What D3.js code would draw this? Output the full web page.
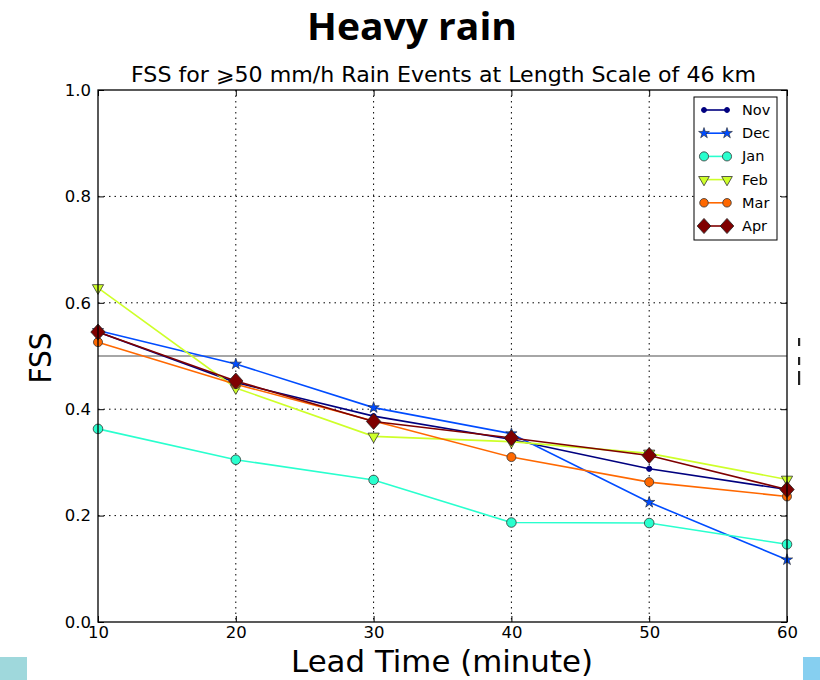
<!DOCTYPE html>
<html><head><meta charset="utf-8">
<script src="https://cdn.jsdelivr.net/npm/d3@7"></script>
<style>body{margin:0;background:#fff;} svg{display:block;}</style>
</head><body>
<svg id="c" width="820" height="680"></svg>
<script>
const leadTimes = [10, 20, 30, 40, 50, 60];
const months = ["Nov", "Dec", "Jan", "Feb", "Mar", "Apr"];
const nov = [0.545, 0.450, 0.387, 0.343, 0.288, 0.249];
const dec = [0.548, 0.485, 0.403, 0.354, 0.225, 0.117];
const jan = [0.363, 0.305, 0.267, 0.187, 0.186, 0.146];
const feb = [0.628, 0.440, 0.349, 0.339, 0.317, 0.268];
const mar = [0.526, 0.447, 0.378, 0.310, 0.263, 0.236];
const apr = [0.545, 0.453, 0.377, 0.346, 0.313, 0.249];
const xTicks = [10, 20, 30, 40, 50, 60];
const yTicks = [0.0, 0.2, 0.4, 0.6, 0.8, 1.0];
const refLine = 0.5;

const seriesVals = [nov, dec, jan, feb, mar, apr];
const colors = ["#00007f", "#004cff", "#29ffce", "#ceff29", "#ff6800", "#7f0000"];
const markers = ["dot", "star", "circle", "tri", "circle2", "diamond"];

const svg = d3.select("#c");
const L = 98, R = 787, T = 90, B = 622;
const x = d3.scaleLinear().domain([10, 60]).range([L, R]);
const y = d3.scaleLinear().domain([0, 1]).range([B, T]);
const font = "'DejaVu Sans', sans-serif";

// title
svg.append("text").attr("x", 412).attr("y", 40).attr("text-anchor", "middle")
  .attr("font-family", "'Open Sans', 'DejaVu Sans', sans-serif").attr("font-weight", "bold")
  .attr("font-size", 38).attr("textLength", 210).attr("lengthAdjust", "spacingAndGlyphs")
  .text("Heavy rain");
svg.append("text").attr("x", 443.5).attr("y", 82).attr("text-anchor", "middle")
  .attr("font-family", font).attr("font-size", 20.5)
  .attr("textLength", 625).attr("lengthAdjust", "spacingAndGlyphs")
  .text("FSS for \u2A7E50 mm/h Rain Events at Length Scale of 46 km");

// grid
const g = svg.append("g");
g.selectAll(".gx").data(xTicks.slice(1, -1)).enter().append("line")
  .attr("x1", d => x(d)).attr("x2", d => x(d)).attr("y1", T).attr("y2", B)
  .attr("stroke", "#000").attr("stroke-width", 1).attr("stroke-dasharray", "1.5,4");
g.selectAll(".gy").data(yTicks.slice(1, -1)).enter().append("line")
  .attr("x1", L).attr("x2", R).attr("y1", d => y(d)).attr("y2", d => y(d))
  .attr("stroke", "#000").attr("stroke-width", 1).attr("stroke-dasharray", "1.5,4");

// reference line
g.append("line").attr("x1", L).attr("x2", R).attr("y1", y(refLine)).attr("y2", y(refLine))
  .attr("stroke", "#888").attr("stroke-width", 1.3);

// axes (ticks inward)
const xAxB = d3.axisBottom(x).tickValues(xTicks).tickSizeInner(-6).tickSizeOuter(0).tickPadding(7).tickFormat(d3.format("d"));
const yAxL = d3.axisLeft(y).tickValues(yTicks).tickSizeInner(-6).tickSizeOuter(0).tickPadding(7).tickFormat(d3.format(".1f"));
const ax1 = svg.append("g").attr("transform", `translate(0,${B})`).call(xAxB);
const ax2 = svg.append("g").attr("transform", `translate(${L},0)`).call(yAxL);
[ax1, ax2].forEach(a => {
  a.select(".domain").remove();
  a.selectAll("text").attr("font-family", font).attr("font-size", 16.5).attr("fill", "#000");
  a.selectAll("line").attr("stroke", "#000");
});
ax1.selectAll("text").attr("dy", "0.55em");
// top/right ticks
svg.append("g").attr("transform", `translate(0,${T})`)
  .call(d3.axisTop(x).tickValues(xTicks).tickSizeInner(-6).tickSizeOuter(0).tickFormat(""))
  .call(a => { a.select(".domain").remove(); a.selectAll("line").attr("stroke", "#000"); });
svg.append("g").attr("transform", `translate(${R},0)`)
  .call(d3.axisRight(y).tickValues(yTicks).tickSizeInner(-6).tickSizeOuter(0).tickFormat(""))
  .call(a => { a.select(".domain").remove(); a.selectAll("line").attr("stroke", "#000"); });

// series
const line = d3.line().x((d, i) => x(leadTimes[i])).y(d => y(d));
function marker(sel, type, color, scale) {
  scale = scale || 1;
  if (type === "dot") {
    sel.append("circle").attr("r", 2.6 * scale).attr("fill", color).attr("stroke", color);
  } else if (type === "circle") {
    sel.append("circle").attr("r", 4.8 * scale).attr("fill", color).attr("stroke", "#333").attr("stroke-width", 0.8);
  } else if (type === "circle2") {
    sel.append("circle").attr("r", 4.5 * scale).attr("fill", color).attr("stroke", "#333").attr("stroke-width", 0.8);
  } else if (type === "star") {
    sel.append("path").attr("d", d3.symbol(d3.symbolStar, 40 * scale * scale)).attr("fill", color).attr("stroke", "#222").attr("stroke-width", 0.6);
  } else if (type === "tri") {
    sel.append("path").attr("d", d3.symbol(d3.symbolTriangle, 55 * scale * scale)).attr("transform", "rotate(180)")
      .attr("fill", color).attr("stroke", "#333").attr("stroke-width", 0.8);
  } else if (type === "diamond") {
    const s = 8 * scale;
    sel.append("path").attr("d", `M0,${-s}L${s * 0.9},0L0,${s}L${-s * 0.9},0Z`).attr("fill", color).attr("stroke", "#222").attr("stroke-width", 0.8);
  }
}
const plot = svg.append("g");
seriesVals.forEach((vals, k) => {
  const sg = plot.append("g");
  sg.append("path").datum(vals).attr("d", line).attr("fill", "none")
    .attr("stroke", colors[k]).attr("stroke-width", 1.6);
  vals.forEach((v, i) => {
    const m = sg.append("g").attr("transform", `translate(${x(leadTimes[i])},${y(v)})`);
    marker(m, markers[k], colors[k]);
  });
});

// frame
svg.append("rect").attr("x", L).attr("y", T).attr("width", R - L).attr("height", B - T)
  .attr("fill", "none").attr("stroke", "#000").attr("stroke-width", 1.3);

// legend
const lg = svg.append("g");
lg.append("rect").attr("x", 694).attr("y", 97).attr("width", 83).attr("height", 143)
  .attr("fill", "#fff").attr("stroke", "#000").attr("stroke-width", 1);
months.forEach((m, k) => {
  const yy = 110 + k * 23.2;
  lg.append("line").attr("x1", 704).attr("x2", 727).attr("y1", yy).attr("y2", yy)
    .attr("stroke", colors[k]).attr("stroke-width", 1.6);
  [704, 727].forEach(xx => {
    const mm = lg.append("g").attr("transform", `translate(${xx},${yy})`);
    marker(mm, markers[k], colors[k], 0.95);
  });
  lg.append("text").attr("x", 742).attr("y", yy + 5).attr("font-family", font)
    .attr("font-size", 14.5).text(m);
});

// axis labels
svg.append("text").attr("x", 442).attr("y", 672).attr("text-anchor", "middle")
  .attr("font-family", font).attr("font-size", 30)
  .attr("textLength", 302).attr("lengthAdjust", "spacingAndGlyphs").text("Lead Time (minute)");
svg.append("text").attr("transform", `translate(51,${y(0.5) + 2}) rotate(-90)`).attr("text-anchor", "middle")
  .attr("font-family", font).attr("font-size", 31)
  .attr("textLength", 51).attr("lengthAdjust", "spacingAndGlyphs").text("FSS");

// slide decorations
svg.append("rect").attr("x", 0).attr("y", 657).attr("width", 27).attr("height", 23).attr("fill", "#9fd8dc");
svg.append("rect").attr("x", 803).attr("y", 657).attr("width", 17).attr("height", 23).attr("fill", "#86cff0");
[[338, 8], [357, 8], [371, 14]].forEach(([yy, h]) => {
  svg.append("rect").attr("x", 798).attr("y", yy).attr("width", 2.2).attr("height", h).attr("fill", "#222");
});
</script>
</body></html>
